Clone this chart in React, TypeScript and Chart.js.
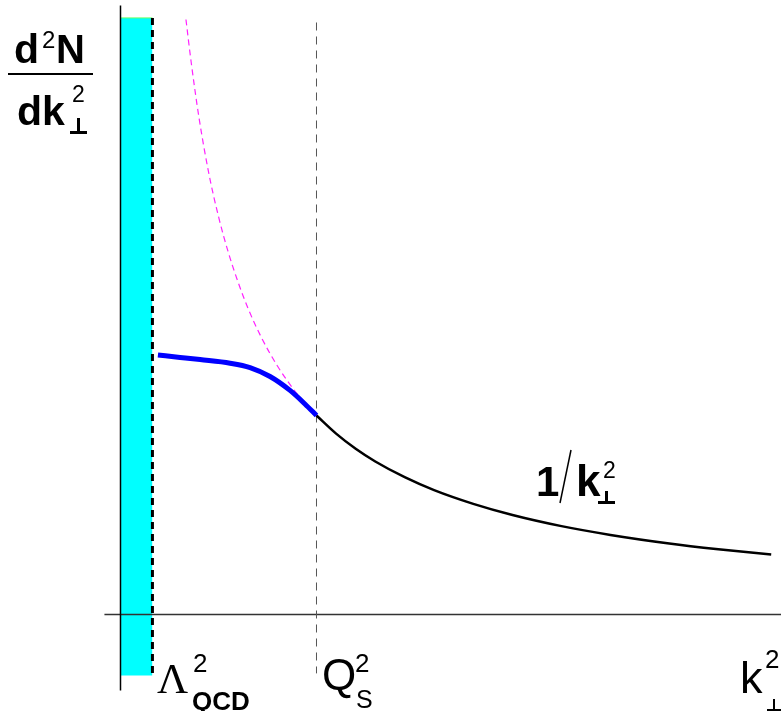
import React, { useEffect, useRef } from "react";
import { Chart, registerables } from "chart.js";

Chart.register(...registerables);

// k_perp^2 in units of Q_s^2, dN/dk^2 in units of its value at Q_s^2
const lambdaQCD2 = 0.163;
const qs2 = 1.0;

const kPert = [1.0, 1.1, 1.2, 1.3, 1.45, 1.6, 1.8, 2.0, 2.25, 2.5, 2.8, 3.05, 3.32];
const nPert = [1.0, 0.909, 0.833, 0.769, 0.69, 0.625, 0.556, 0.5, 0.444, 0.4, 0.357, 0.328, 0.301];

const kNaive = [0.334, 0.36, 0.4, 0.45, 0.5, 0.55, 0.6, 0.65, 0.72, 0.8, 0.9, 1.0];
const nNaive = [2.99, 2.78, 2.5, 2.22, 2.0, 1.82, 1.67, 1.54, 1.39, 1.25, 1.11, 1.0];

const kSat = [0.191, 0.304, 0.406, 0.559, 0.661, 0.763, 0.865, 0.941, 1.0];
const nSat = [1.304, 1.292, 1.281, 1.263, 1.241, 1.196, 1.126, 1.058, 1.0];

const bandTop = 2.998;
const bandBottom = -0.307;

const X_MIN = -0.6148;
const X_MAX = 3.37;
const Y_MIN = -0.485;
const Y_MAX = 3.088;

const pts = (xs: number[], ys: number[]) => xs.map((x, i) => ({ x, y: ys[i] }));

const SANS = '"Liberation Sans", Arial, sans-serif';
const SERIF = '"Liberation Serif", "Times New Roman", serif';

const labelsPlugin = {
  id: "labels",
  afterDraw(chart: any) {
    const ctx = chart.ctx as CanvasRenderingContext2D;
    ctx.save();
    ctx.fillStyle = "#000";
    ctx.textBaseline = "alphabetic";
    ctx.textAlign = "left";
    const t = (s: string, x: number, y: number, font: string) => {
      ctx.font = font;
      ctx.fillText(s, x, y);
    };
    // perpendicular sign drawn as strokes
    const perp = (x: number, y: number, w: number, h: number, lw: number) => {
      ctx.fillRect(x + w / 2 - lw / 2, y, lw, h);
      ctx.fillRect(x, y + h - lw, w, lw);
    };
    // y-axis label: d^2N / dk_perp^2
    t("d", 14, 63, `bold 41px ${SANS}`);
    t("2", 42, 48, `24px ${SANS}`);
    t("N", 56, 63, `bold 40px ${SANS}`);
    ctx.fillRect(8, 73, 85, 2);
    t("dk", 17, 125, `bold 41px ${SANS}`);
    t("2", 72, 102, `23px ${SANS}`);
    perp(70, 118, 17, 16, 3);

    // Lambda_QCD^2
    t("Λ", 157, 693, `43px ${SERIF}`);
    t("2", 193, 672, `26px ${SANS}`);
    t("QCD", 192, 710, `bold 26px ${SANS}`);

    // Q_s^2
    t("Q", 322, 690, `44px ${SANS}`);
    t("2", 355, 672, `26px ${SANS}`);
    t("S", 356, 708, `25px ${SANS}`);

    // k_perp^2
    t("k", 740, 693, `45px ${SANS}`);
    t("2", 765, 668, `26px ${SANS}`);
    perp(767, 699, 14, 12, 2);

    // 1/k_perp^2
    t("1", 536, 496, `bold 42px ${SANS}`);
    ctx.strokeStyle = "#000";
    ctx.lineWidth = 1.5;
    ctx.beginPath();
    ctx.moveTo(571, 450);
    ctx.lineTo(560, 503);
    ctx.stroke();
    t("k", 576, 496, `bold 44px ${SANS}`);
    t("2", 603, 478, `23px ${SANS}`);
    perp(598, 491, 17, 13, 3);
    ctx.restore();
  },
};

export default function App() {
  const ref = useRef<HTMLCanvasElement | null>(null);

  useEffect(() => {
    if (!ref.current) return;
    const chart = new Chart(ref.current, {
      type: "scatter",
      data: {
        datasets: [
          {
            // saturation (non-perturbative region) curve
            data: pts(kSat, nSat),
            showLine: true,
            borderColor: "#0000ff",
            borderWidth: 5,
            cubicInterpolationMode: "monotone",
            pointRadius: 0,
            order: 1,
          } as any,
          {
            data: pts(kPert, nPert),
            showLine: true,
            borderColor: "#000000",
            borderWidth: 2.5,
            cubicInterpolationMode: "monotone",
            pointRadius: 0,
            order: 2,
          },
          {
            data: pts(kNaive, nNaive),
            showLine: true,
            borderColor: "#ff22ff",
            borderWidth: 1.2,
            borderDash: [6, 4],
            cubicInterpolationMode: "monotone",
            pointRadius: 0,
            order: 3,
          },
          {
            data: [
              { x: qs2, y: 2.975 },
              { x: qs2, y: -0.296 },
            ],
            showLine: true,
            borderColor: "#555555",
            borderWidth: 1,
            borderDash: [8, 6],
            pointRadius: 0,
            order: 4,
          },
          {
            data: [
              { x: lambdaQCD2, y: bandTop },
              { x: lambdaQCD2, y: bandBottom },
            ],
            showLine: true,
            borderColor: "#000000",
            borderWidth: 3,
            borderDash: [7, 5],
            pointRadius: 0,
            order: 5,
          },
          {
            // vertical axis
            data: [
              { x: 0, y: 3.06 },
              { x: 0, y: -0.382 },
            ],
            showLine: true,
            borderColor: "#000000",
            borderWidth: 1.5,
            pointRadius: 0,
            order: 6,
          },
          {
            // horizontal axis
            data: [
              { x: -0.082, y: 0 },
              { x: X_MAX, y: 0 },
            ],
            showLine: true,
            borderColor: "#333333",
            borderWidth: 1.5,
            pointRadius: 0,
            order: 7,
          },
          {
            // non-perturbative band
            data: [
              { x: 0, y: bandTop },
              { x: lambdaQCD2, y: bandTop },
            ],
            showLine: true,
            borderColor: "#66ff66",
            borderWidth: 1,
            backgroundColor: "#00ffff",
            fill: { value: bandBottom },
            pointRadius: 0,
            order: 8,
          } as any,
        ],
      },
      options: {
        responsive: false,
        devicePixelRatio: 1,
        animation: false,
        layout: { padding: 0 },
        plugins: {
          legend: { display: false },
          tooltip: { enabled: false },
        },
        scales: {
          x: { type: "linear", min: X_MIN, max: X_MAX, display: false },
          y: { type: "linear", min: Y_MIN, max: Y_MAX, display: false },
        },
      },
      plugins: [labelsPlugin],
    });
    return () => chart.destroy();
  }, []);

  return (
    <div style={{ position: "fixed", left: 0, top: 0, width: 781, height: 711, background: "#fff" }}>
      <canvas ref={ref} width={781} height={711} style={{ display: "block" }} />
    </div>
  );
}
